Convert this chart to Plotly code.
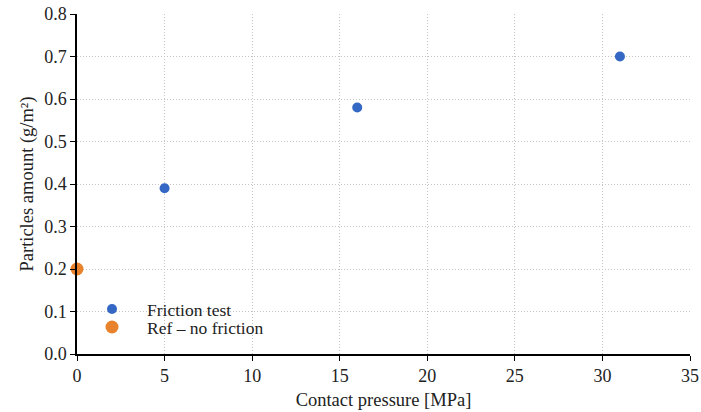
import plotly.graph_objects as go

friction_x = [5, 16, 31]
friction_y = [0.39, 0.58, 0.70]
ref_x = [0]
ref_y = [0.20]

x_ticks = [0, 5, 10, 15, 20, 25, 30, 35]
y_ticks = [0.0, 0.1, 0.2, 0.3, 0.4, 0.5, 0.6, 0.7, 0.8]

font = "Liberation Serif"
tc = "#222"

fig = go.Figure()
fig.add_trace(go.Scatter(x=friction_x, y=friction_y, mode="markers", name="Friction test",
                         marker=dict(color="#3568c4", size=10), cliponaxis=False,
                         legend="legend", showlegend=True))
fig.add_trace(go.Scatter(x=ref_x, y=ref_y, mode="markers", name="Ref \u2013 no friction",
                         marker=dict(color="#e8822c", size=13), cliponaxis=False,
                         legend="legend2", showlegend=True))

axis_common = dict(showline=True, linecolor="black", linewidth=1.5,
                   ticks="outside", ticklen=5, tickcolor="black", showgrid=True,
                   gridcolor="#c4c4c4", griddash="1px,2px", gridwidth=1, zeroline=False,
                   automargin=False, tickfont=dict(family=font, size=18, color=tc))

leg_common = dict(xanchor="left", yanchor="middle", bgcolor="rgba(0,0,0,0)",
                  font=dict(family=font, size=17.5, color=tc), itemwidth=60,
                  itemsizing="trace", visible=True)

fig.update_layout(
    width=701, height=412,
    showlegend=True,
    margin=dict(l=77, r=11, t=14, b=58),
    paper_bgcolor="white", plot_bgcolor="white",
    font=dict(family=font, size=18, color=tc),
    legend=dict(x=0.0, y=0.132, **leg_common),
    legend2=dict(x=0.0, y=0.079, **leg_common),
    xaxis=dict(range=[0, 35], tickvals=x_ticks, **axis_common,
               title=dict(text="Contact pressure [MPa]", standoff=8,
                          font=dict(family=font, size=18.5, color=tc))),
    yaxis=dict(range=[0, 0.8], tickvals=y_ticks, tickformat=".1f", **axis_common,
               title=dict(text="Particles amount (g/m\u00b2)", standoff=6,
                          font=dict(family=font, size=18.5, color=tc))),
)

fig.write_html("out.html")
